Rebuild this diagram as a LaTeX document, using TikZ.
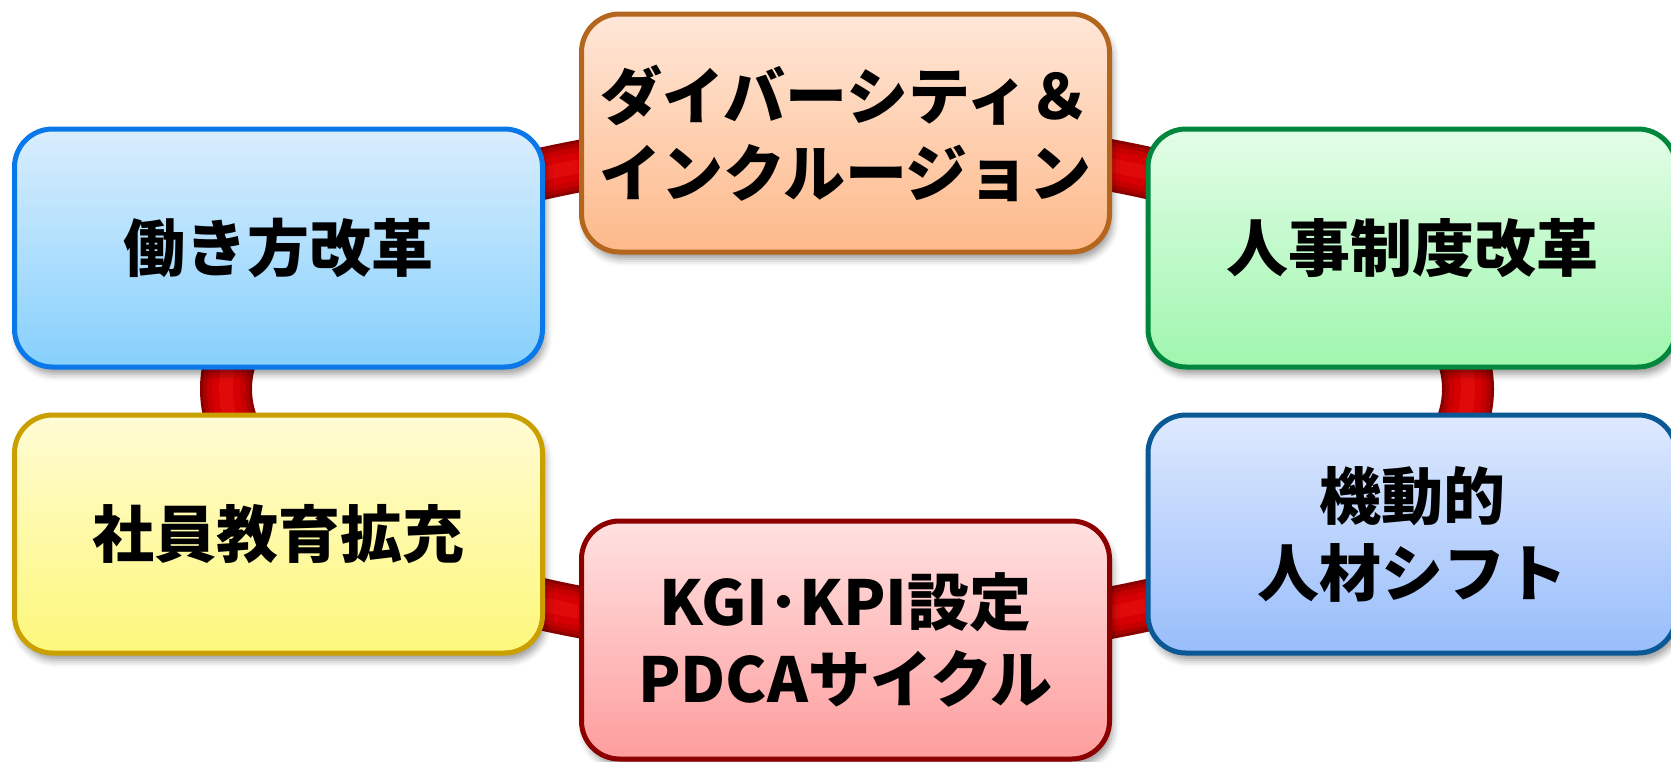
\documentclass[tikz,border=0pt]{standalone}
\usepackage{fontspec}
\newfontfamily\jp{Noto Sans CJK JP}
\usetikzlibrary{shadows.blur}
\definecolor{tubeA}{HTML}{8A0000}
\definecolor{tubeB}{HTML}{AC0000}
\definecolor{tubeC}{HTML}{C60000}
\definecolor{tubeD}{HTML}{D60004}
\definecolor{tubeE}{HTML}{E10A0A}
\definecolor{aTop}{HTML}{DAEEFD}
\definecolor{aBot}{HTML}{86D0FD}
\definecolor{aLine}{HTML}{0A78E8}
\definecolor{bTop}{HTML}{FFE7D8}
\definecolor{bBot}{HTML}{FDB98A}
\definecolor{bLine}{HTML}{B5661E}
\definecolor{cTop}{HTML}{E3FDE7}
\definecolor{cBot}{HTML}{9FF6AE}
\definecolor{cLine}{HTML}{00873D}
\definecolor{dTop}{HTML}{FFFBD4}
\definecolor{dBot}{HTML}{FDF87A}
\definecolor{dLine}{HTML}{C9A000}
\definecolor{eTop}{HTML}{FFE1E1}
\definecolor{eBot}{HTML}{FE9D9D}
\definecolor{eLine}{HTML}{8C0000}
\definecolor{fTop}{HTML}{DEE9FE}
\definecolor{fBot}{HTML}{98BDFB}
\definecolor{fLine}{HTML}{0A5894}
\tikzset{
  box/.style={rounded corners=38pt, line width=5pt, minimum width=528pt,
    minimum height=238pt, align=center, text=black,
    font=\jp\bfseries\fontsize{62}{77}\selectfont,
    blur shadow={shadow xshift=3pt, shadow yshift=-7pt, shadow blur radius=7pt, shadow opacity=40}},
  boxA/.style={box, draw=aLine, top color=aTop, bottom color=aBot},
  boxB/.style={box, draw=bLine, top color=bTop, bottom color=bBot},
  boxC/.style={box, draw=cLine, top color=cTop, bottom color=cBot},
  boxD/.style={box, draw=dLine, top color=dTop, bottom color=dBot},
  boxE/.style={box, draw=eLine, top color=eTop, bottom color=eBot},
  boxF/.style={box, draw=fLine, top color=fTop, bottom color=fBot},
  ring/.style={line width=#1},
}
\begin{document}
\begin{tikzpicture}[x=1pt,y=-1pt]
\useasboundingbox (0,0) rectangle (1671,761);
\coordinate (ringc) at (847,389);
% ring tube
\draw[ring=52pt, tubeA] (ringc) ellipse [x radius=621, y radius=247];
\draw[ring=46pt, tubeB] (ringc) ellipse [x radius=621, y radius=247];
\draw[ring=38pt, tubeC] (ringc) ellipse [x radius=621, y radius=247];
\draw[ring=28pt, tubeD] (ringc) ellipse [x radius=621, y radius=247];
\draw[ring=14pt, tubeE] (ringc) ellipse [x radius=621, y radius=247];
% boxes
\node[boxA] (A) at (278.5,248) {働き方改革};
\node[boxB] (B) at (845.5,133) {ダイバーシティ＆\\インクルージョン};
\node[boxC] (C) at (1412,248) {人事制度改革};
\node[boxD] (D) at (278.5,534) {社員教育拡充};
\node[boxE] (E) at (845.5,640) {KGI･KPI設定\\PDCAサイクル};
\node[boxF] (F) at (1412,534) {機動的\\人材シフト};
\end{tikzpicture}
\end{document}
